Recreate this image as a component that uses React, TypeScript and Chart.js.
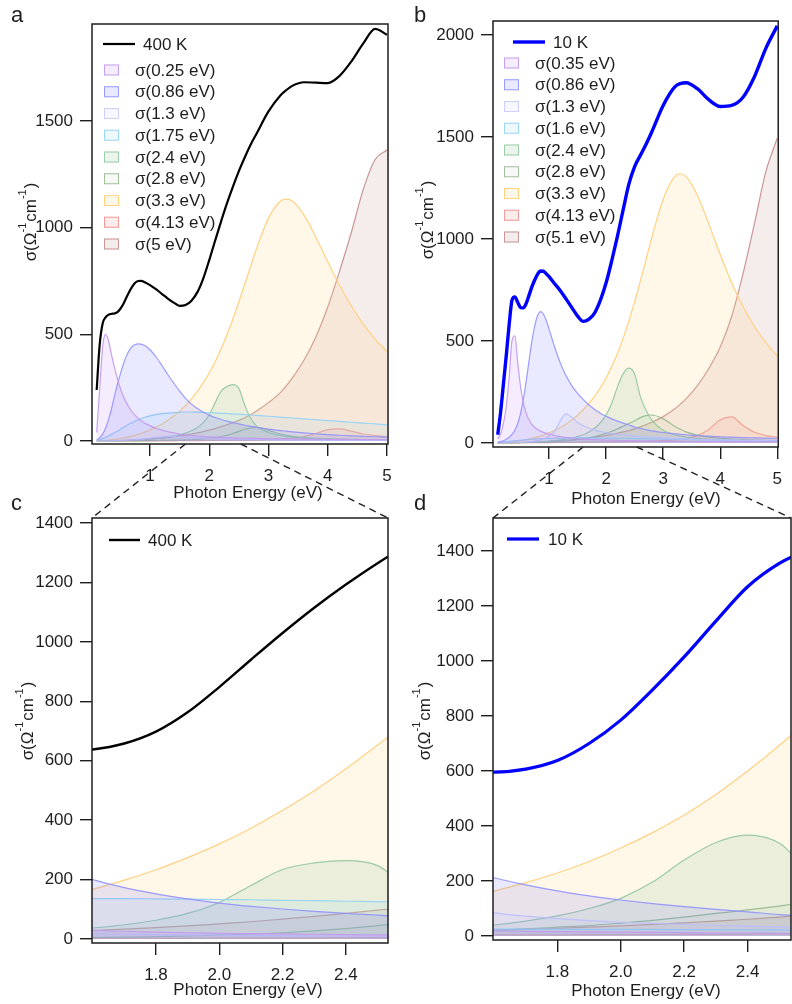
import { useEffect, useRef } from 'react';
import { Chart, registerables } from 'chart.js';

Chart.register(...registerables);

const W = 792;
const H = 1004;
const FONT = '"Liberation Sans", Arial, Helvetica, sans-serif';
const INK = '#1e1e1e';

// Photon energy grid (eV)
const energy = [
  0.1, 0.15, 0.2, 0.25, 0.3, 0.35, 0.4, 0.45, 0.5, 0.55, 0.6, 0.65, 0.7, 0.75, 0.8, 0.85, 0.9, 0.95, 1.0,
  1.1, 1.2, 1.3, 1.4, 1.5, 1.6, 1.7, 1.8, 1.9, 2.0, 2.1, 2.2, 2.3, 2.4, 2.5, 2.6, 2.7, 2.8,
  3.0, 3.2, 3.3, 3.4, 3.6, 3.8, 4.0, 4.2, 4.4, 4.6, 4.8, 5.0,
];

// ---- 400 K ----
const total400K = [
  239, 450, 550, 580, 592, 596, 598, 604, 620, 642, 672, 700, 724, 742, 750, 751, 746, 739, 731,
  712, 690, 668, 649, 634, 638, 658, 698, 763, 848, 940, 1030, 1115, 1193, 1265, 1330, 1390, 1442,
  1545, 1620, 1645, 1665, 1682, 1680, 1678, 1712, 1780, 1864, 1932, 1905,
];
const osc400_025 = [
  40, 240, 440, 500, 470, 405, 345, 292, 246, 210, 180, 156, 136, 120, 106, 95, 86, 78, 71,
  60, 51, 44, 38, 33, 29, 26, 23, 21, 19, 18, 17, 16, 15, 14, 13, 12.5, 12,
  11, 10, 9.7, 9.5, 9, 8.5, 8, 7.5, 7, 7, 6.5, 6,
];
const osc400_086 = [
  5, 15, 32, 60, 100, 150, 210, 265, 315, 360, 398, 425, 443, 452, 455, 454, 449, 440, 428,
  395, 355, 312, 272, 234, 200, 173, 152, 135, 121, 110, 101, 93, 86, 80, 74, 69, 64,
  56, 49, 46, 43, 38, 34, 30, 27, 24, 22, 20, 18,
];
const osc400_13 = [
  0, 0, 0, 1, 1, 1, 2, 2, 3, 3, 4, 5, 6, 7, 8, 9, 10, 12, 13,
  17, 21, 23, 22, 20, 18, 16, 15, 14, 13, 12, 11, 10, 10, 9, 9, 8, 8,
  7, 6, 6, 6, 5, 5, 4, 4, 4, 3, 3, 3,
];
const osc400_175 = [
  2, 6, 11, 17, 24, 31, 39, 47, 55, 64, 72, 80, 87, 94, 100, 105, 110, 114, 118,
  124, 128, 131, 133, 135, 136, 136, 135, 134, 133, 132, 130, 129, 127, 126, 124, 122, 120,
  116, 112, 110, 108, 104, 100, 96, 92, 88, 84, 80, 76,
];
const osc400_24 = [
  0, 0, 0, 1, 1, 1, 1, 2, 2, 2, 3, 3, 4, 4, 5, 6, 7, 8, 9,
  11, 14, 18, 23, 29, 37, 48, 63, 86, 123, 180, 234, 256, 264, 247, 168, 106, 70,
  40, 26, 22, 19, 15, 12, 10, 9, 8, 7, 6, 5,
];
const osc400_28 = [
  0, 0, 0, 0, 0, 0, 0, 0, 1, 1, 1, 1, 1, 1, 1, 1, 2, 2, 2,
  2, 3, 3, 4, 4, 5, 6, 8, 10, 13, 16, 21, 27, 35, 45, 55, 62, 64,
  50, 33, 27, 22, 15, 11, 9, 7, 6, 5, 5, 4,
];
const osc400_33 = [
  0, 1, 2, 3, 4, 6, 7, 9, 12, 14, 17, 20, 24, 27, 31, 36, 41, 46, 52,
  65, 79, 97, 117, 140, 167, 198, 233, 274, 320, 373, 433, 499, 573, 653, 736, 821, 904,
  1045, 1124, 1134, 1125, 1059, 955, 840, 729, 633, 548, 478, 419,
];
const osc400_413 = [
  0, 0, 0, 0, 0, 0, 0, 0, 0, 0, 1, 1, 1, 1, 1, 1, 1, 1, 1,
  1, 1, 1, 1, 2, 2, 2, 2, 2, 3, 3, 3, 3, 4, 4, 4, 5, 5,
  7, 9, 11, 13, 21, 35, 53, 57, 46, 33, 25, 20,
];
const osc400_5 = [
  0, 0, 0, 0, 1, 1, 1, 2, 2, 3, 3, 4, 5, 5, 6, 7, 8, 9, 10,
  12, 14, 17, 20, 24, 28, 33, 38, 44, 51, 58, 67, 76, 86, 97, 109, 124, 141,
  180, 227, 259, 295, 380, 488, 628, 797, 980, 1180, 1320, 1364,
];
const peaks400K = ['0.25', '0.86', '1.3', '1.75', '2.4', '2.8', '3.3', '4.13', '5'];

// ---- 10 K ----
const total10K = [
  40, 150, 290, 430, 580, 700, 716, 690, 664, 662, 685, 725, 766, 800, 828, 843, 842, 830, 815,
  780, 745, 705, 663, 622, 596, 607, 638, 700, 785, 895, 1015, 1145, 1270, 1355, 1410, 1465, 1525,
  1655, 1745, 1762, 1766, 1737, 1683, 1650, 1655, 1695, 1796, 1935, 2045,
];
const osc10_035 = [
  20, 45, 95, 180, 320, 500, 525, 395, 275, 195, 145, 112, 90, 76, 66, 58, 52, 47, 43,
  36, 31, 27, 24, 21, 19, 17, 16, 15, 14, 13, 12, 11, 11, 10, 10, 9, 9,
  8, 8, 7.5, 7, 7, 6, 6, 6, 5, 5, 5, 5,
];
const osc10_086 = [
  3, 6, 11, 18, 28, 42, 62, 95, 145, 215, 305, 405, 500, 575, 625, 644, 632, 600, 558,
  468, 390, 328, 280, 243, 212, 186, 164, 146, 131, 118, 107, 97, 88, 78, 71, 65, 59,
  51, 45, 42, 40, 36, 33, 30, 28, 26, 25, 24, 23,
];
const osc10_13 = [
  0, 0, 1, 1, 1, 1, 2, 2, 3, 3, 4, 5, 7, 9, 12, 15, 20, 27, 36,
  58, 110, 142, 125, 100, 84, 72, 63, 56, 50, 46, 42, 39, 36, 33, 31, 29, 28,
  25, 22, 21, 20, 18, 16, 15, 14, 13, 12, 11, 10,
];
const osc10_16 = [
  2, 3, 5, 6, 8, 9, 11, 12, 13, 15, 16, 17, 18, 19, 20, 21, 21, 22, 22,
  23, 24, 24, 25, 25, 25, 25, 25, 24, 24, 24, 23, 23, 22, 22, 21, 21, 20,
  19, 18, 17.5, 17, 16, 15, 15, 14, 13, 13, 12, 12,
];
const osc10_24 = [
  0, 0, 0, 0, 1, 1, 1, 1, 2, 2, 3, 3, 4, 4, 5, 6, 7, 8, 9,
  12, 15, 19, 24, 31, 40, 54, 73, 100, 137, 196, 276, 340, 367, 338, 228, 160, 112,
  62, 40, 34, 29, 22, 18, 15, 13, 11, 10, 9, 8,
];
const osc10_28 = [
  0, 0, 0, 0, 0, 0, 1, 1, 1, 1, 1, 2, 2, 2, 2, 3, 3, 3, 4,
  6, 8, 10, 13, 16, 21, 26, 32, 38, 47, 57, 69, 82, 95, 109, 124, 134, 137,
  118, 82, 67, 54, 38, 28, 23, 19, 16, 14, 12, 11,
];
const osc10_33 = [
  0, 1, 2, 3, 4, 5, 7, 9, 11, 13, 16, 19, 22, 26, 30, 34, 39, 44, 49,
  62, 76, 93, 113, 136, 163, 194, 229, 271, 320, 376, 440, 515, 600, 693, 794, 900, 1007,
  1195, 1306, 1320, 1307, 1215, 1074, 924, 786, 669, 571, 492, 427,
];
const osc10_413 = [
  0, 0, 0, 0, 0, 0, 0, 0, 1, 1, 1, 1, 1, 1, 1, 1, 1, 1, 1,
  2, 2, 2, 3, 3, 4, 4, 4, 5, 5, 5, 6, 6, 7, 8, 8, 9, 10,
  12, 15, 18, 22, 36, 66, 114, 128, 85, 52, 36, 28,
];
const osc10_51 = [
  0, 0, 0, 0, 0, 0, 1, 1, 2, 2, 2, 3, 3, 4, 4, 5, 6, 6, 7,
  9, 11, 13, 15, 18, 21, 24, 28, 32, 37, 42, 48, 54, 61, 69, 79, 89, 101,
  129, 166, 190, 216, 281, 365, 470, 620, 830, 1075, 1330, 1494,
];
const peaks10K = ['0.35', '0.86', '1.3', '1.6', '2.4', '2.8', '3.3', '4.13', '5.1'];

// Axis ticks
const xTicksFull = [1, 2, 3, 4, 5];
const xTicksZoom = [1.8, 2.0, 2.2, 2.4];
const yTicks400K = [0, 500, 1000, 1500];
const yTicks10K = [0, 500, 1000, 1500, 2000];
const yTicksZoom = [0, 200, 400, 600, 800, 1000, 1200, 1400];

// Oscillator colours, in legend order
const oscStyles = [
  { line: 'rgba(195,155,240,0.95)', fill: 'rgba(185,130,240,0.14)' },
  { line: 'rgba(145,145,255,0.9)', fill: 'rgba(110,110,255,0.15)' },
  { line: 'rgba(200,206,255,0.95)', fill: 'rgba(190,200,255,0.12)' },
  { line: 'rgba(150,212,245,0.95)', fill: 'rgba(140,205,240,0.15)' },
  { line: 'rgba(145,200,158,0.9)', fill: 'rgba(120,190,140,0.15)' },
  { line: 'rgba(145,182,138,0.85)', fill: 'rgba(130,170,120,0.07)' },
  { line: 'rgba(255,208,125,0.95)', fill: 'rgba(255,210,130,0.18)' },
  { line: 'rgba(240,145,145,0.9)', fill: 'rgba(240,120,120,0.14)' },
  { line: 'rgba(198,145,145,0.95)', fill: 'rgba(185,120,120,0.14)' },
];

type Panel = {
  letter: string;
  letterPos: [number, number];
  area: { left: number; top: number; right: number; bottom: number };
  xRange: [number, number];
  yRange: [number, number];
  xTicks: number[];
  yTicks: number[];
  zoomTicks: boolean;
  total: number[];
  totalLabel: string;
  totalColor: string;
  totalWidth: number;
  oscs: number[][];
  peaks: string[];
  showOscLegend: boolean;
  legend: { x0: number; x1: number; y: number; textX: number; swX: number; swY: number; step: number; swTextX: number };
  xTitle: [number, number];
  yTitle: [number, number];
};

const osc400 = [osc400_025, osc400_086, osc400_13, osc400_175, osc400_24, osc400_28, osc400_33, osc400_413, osc400_5];
const osc10 = [osc10_035, osc10_086, osc10_13, osc10_16, osc10_24, osc10_28, osc10_33, osc10_413, osc10_51];

const panelA: Panel = {
  letter: 'a', letterPos: [11, 22],
  area: { left: 92, top: 24, right: 388, bottom: 444 },
  xRange: [0.021, 5.017], yRange: [-14, 1955],
  xTicks: xTicksFull, yTicks: yTicks400K, zoomTicks: false,
  total: total400K, totalLabel: '400 K', totalColor: '#000000', totalWidth: 2.2,
  oscs: osc400, peaks: peaks400K, showOscLegend: true,
  legend: { x0: 103, x1: 135, y: 44, textX: 143, swX: 104, swY: 70, step: 21.75, swTextX: 135 },
  xTitle: [248, 498], yTitle: [36, 222],
};
const panelB: Panel = {
  letter: 'b', letterPos: [414, 22],
  area: { left: 493, top: 21, right: 788, bottom: 447 },
  xRange: [0.017, 5.017], yRange: [-20, 2069],
  xTicks: xTicksFull, yTicks: yTicks10K, zoomTicks: false,
  total: total10K, totalLabel: '10 K', totalColor: '#0000ff', totalWidth: 3.4,
  oscs: osc10, peaks: peaks10K, showOscLegend: true,
  legend: { x0: 513, x1: 545, y: 42, textX: 553, swX: 504, swY: 63, step: 21.75, swTextX: 535 },
  xTitle: [646, 504], yTitle: [433, 220],
};
const panelC: Panel = {
  letter: 'c', letterPos: [11, 510],
  area: { left: 92, top: 518, right: 388, bottom: 943 },
  xRange: [1.598, 2.533], yRange: [-13.5, 1417],
  xTicks: xTicksZoom, yTicks: yTicksZoom, zoomTicks: true,
  total: total400K, totalLabel: '400 K', totalColor: '#000000', totalWidth: 2.4,
  oscs: osc400, peaks: peaks400K, showOscLegend: false,
  legend: { x0: 109, x1: 140, y: 540, textX: 148, swX: 0, swY: 0, step: 0, swTextX: 0 },
  xTitle: [248, 995], yTitle: [33, 721],
};
const panelD: Panel = {
  letter: 'd', letterPos: [414, 510],
  area: { left: 493, top: 518, right: 791, bottom: 940 },
  xRange: [1.597, 2.537], yRange: [-14.5, 1520],
  xTicks: xTicksZoom, yTicks: yTicksZoom, zoomTicks: true,
  total: total10K, totalLabel: '10 K', totalColor: '#0000ff', totalWidth: 3.2,
  oscs: osc10, peaks: peaks10K, showOscLegend: false,
  legend: { x0: 507, x1: 539, y: 539, textX: 548, swX: 0, swY: 0, step: 0, swTextX: 0 },
  xTitle: [646, 996], yTitle: [430, 721],
};

const AXIS_H = 60;

function drawSigmaTitle(ctx: CanvasRenderingContext2D, baseX: number, centerY: number) {
  const big = `17px ${FONT}`;
  const small = `11px ${FONT}`;
  const parts = [
    { t: 'σ(Ω', sup: false },
    { t: '-1', sup: true },
    { t: 'cm', sup: false },
    { t: '-1', sup: true },
    { t: ')', sup: false },
  ];
  let total = 0;
  const widths = parts.map((p) => {
    ctx.font = p.sup ? small : big;
    const w = ctx.measureText(p.t).width + (p.sup ? 1 : 0);
    total += w;
    return w;
  });
  ctx.save();
  ctx.translate(baseX, centerY);
  ctx.rotate(-Math.PI / 2);
  ctx.fillStyle = INK;
  ctx.textAlign = 'left';
  ctx.textBaseline = 'alphabetic';
  let x = -total / 2;
  parts.forEach((p, i) => {
    ctx.font = p.sup ? small : big;
    ctx.fillText(p.t, x, p.sup ? -10 : 0);
    x += widths[i];
  });
  ctx.restore();
}

function buildChart(canvas: HTMLCanvasElement, p: Panel, source: Chart | null) {
  const pts = (vals: number[]) => energy.map((x, i) => ({ x, y: vals[i] }));
  const datasets: any[] = [
    {
      label: p.totalLabel,
      data: pts(p.total),
      borderColor: p.totalColor,
      borderWidth: p.totalWidth,
      fill: false,
      pointRadius: 0,
      cubicInterpolationMode: 'monotone',
    },
    ...p.oscs.map((vals, k) => ({
      label: `σ(${p.peaks[k]} eV)`,
      data: pts(vals),
      borderColor: oscStyles[k].line,
      backgroundColor: oscStyles[k].fill,
      borderWidth: 1.2,
      fill: 'origin',
      pointRadius: 0,
      cubicInterpolationMode: 'monotone',
    })),
  ];

  const decor = {
    id: 'decor',
    afterDatasetsDraw(chart: any) {
      const ctx: CanvasRenderingContext2D = chart.ctx;
      const ca = chart.chartArea;
      ctx.save();
      ctx.strokeStyle = INK;
      ctx.lineWidth = 1.5;
      ctx.strokeRect(ca.left, ca.top, ca.right - ca.left, ca.bottom - ca.top);

      const L = p.legend;
      ctx.font = `17px ${FONT}`;
      ctx.fillStyle = INK;
      ctx.textAlign = 'left';
      ctx.textBaseline = 'middle';
      ctx.strokeStyle = p.totalColor;
      ctx.lineWidth = p.totalWidth;
      ctx.beginPath();
      ctx.moveTo(L.x0, L.y);
      ctx.lineTo(L.x1, L.y);
      ctx.stroke();
      ctx.fillText(p.totalLabel, L.textX, L.y + 1);
      if (p.showOscLegend) {
        p.peaks.forEach((pk, k) => {
          const cy = L.swY + k * L.step;
          ctx.fillStyle = '#ffffff';
          ctx.fillRect(L.swX, cy - 5.5, 15, 11);
          ctx.fillStyle = oscStyles[k].fill;
          ctx.fillRect(L.swX, cy - 5.5, 15, 11);
          ctx.strokeStyle = oscStyles[k].line;
          ctx.lineWidth = 1;
          ctx.strokeRect(L.swX + 0.5, cy - 5, 14, 10);
          ctx.fillStyle = INK;
          ctx.fillText(`σ(${pk} eV)`, L.swTextX, cy + 1);
        });
      }

      // axis titles and panel letter
      ctx.fillStyle = INK;
      ctx.font = `17px ${FONT}`;
      ctx.textAlign = 'center';
      ctx.textBaseline = 'alphabetic';
      ctx.fillText('Photon Energy (eV)', p.xTitle[0], p.xTitle[1]);
      drawSigmaTitle(ctx, p.yTitle[0], p.yTitle[1]);
      ctx.font = `22px ${FONT}`;
      ctx.textAlign = 'left';
      ctx.fillText(p.letter, p.letterPos[0], p.letterPos[1]);

      // dashed guides from the expanded range on the full-range panel
      if (source) {
        const sx = source.scales.x;
        const sy = source.chartArea.bottom;
        const x0 = sx.getPixelForValue(chart.scales.x.min);
        const x1 = sx.getPixelForValue(chart.scales.x.max);
        ctx.strokeStyle = '#222';
        ctx.lineWidth = 1.4;
        ctx.setLineDash([7, 5]);
        ctx.beginPath();
        ctx.moveTo(x0, sy);
        ctx.lineTo(ca.left, ca.top);
        ctx.moveTo(x1, sy);
        ctx.lineTo(ca.right, ca.top);
        ctx.stroke();
        ctx.setLineDash([]);
      }
      ctx.restore();
    },
  };

  const tickGrid = {
    drawOnChartArea: false,
    drawTicks: true,
    tickLength: 12,
    color: INK,
    lineWidth: 1.4,
  };

  return new Chart(canvas, {
    type: 'line',
    data: { datasets },
    options: {
      responsive: false,
      animation: false,
      events: [],
      layout: {
        padding: {
          left: 0,
          top: p.area.top,
          right: W - p.area.right,
          bottom: H - p.area.bottom - AXIS_H,
        },
      },
      plugins: { legend: { display: false }, tooltip: { enabled: false } },
      scales: {
        x: {
          type: 'linear',
          min: p.xRange[0],
          max: p.xRange[1],
          afterBuildTicks: (ax: any) => {
            ax.ticks = p.xTicks.map((v) => ({ value: v }));
          },
          afterFit: (ax: any) => {
            ax.height = AXIS_H;
          },
          grid: tickGrid,
          border: { display: false },
          ticks: {
            autoSkip: false,
            maxRotation: 0,
            padding: 10,
            color: INK,
            font: { family: FONT, size: 17 },
            callback: (v: any) => (p.zoomTicks ? Number(v).toFixed(1) : String(v)),
          },
        },
        y: {
          type: 'linear',
          min: p.yRange[0],
          max: p.yRange[1],
          afterBuildTicks: (ax: any) => {
            ax.ticks = p.yTicks.map((v) => ({ value: v }));
          },
          afterFit: (ax: any) => {
            ax.width = p.area.left;
          },
          grid: tickGrid,
          border: { display: false },
          ticks: {
            autoSkip: false,
            padding: 7,
            color: INK,
            font: { family: FONT, size: 17 },
            callback: (v: any) => String(v),
          },
        },
      },
    } as any,
    plugins: [decor],
  });
}

export default function App() {
  const refA = useRef<HTMLCanvasElement>(null);
  const refB = useRef<HTMLCanvasElement>(null);
  const refC = useRef<HTMLCanvasElement>(null);
  const refD = useRef<HTMLCanvasElement>(null);

  useEffect(() => {
    const a = buildChart(refA.current!, panelA, null);
    const b = buildChart(refB.current!, panelB, null);
    const c = buildChart(refC.current!, panelC, a);
    const d = buildChart(refD.current!, panelD, b);
    return () => {
      d.destroy();
      c.destroy();
      b.destroy();
      a.destroy();
    };
  }, []);

  const cv = { position: 'absolute' as const, left: 0, top: 0 };
  return (
    <div style={{ position: 'absolute', left: 0, top: 0, width: W, height: H, background: '#ffffff' }}>
      <canvas ref={refA} width={W} height={H} style={cv} />
      <canvas ref={refB} width={W} height={H} style={cv} />
      <canvas ref={refC} width={W} height={H} style={cv} />
      <canvas ref={refD} width={W} height={H} style={cv} />
    </div>
  );
}
